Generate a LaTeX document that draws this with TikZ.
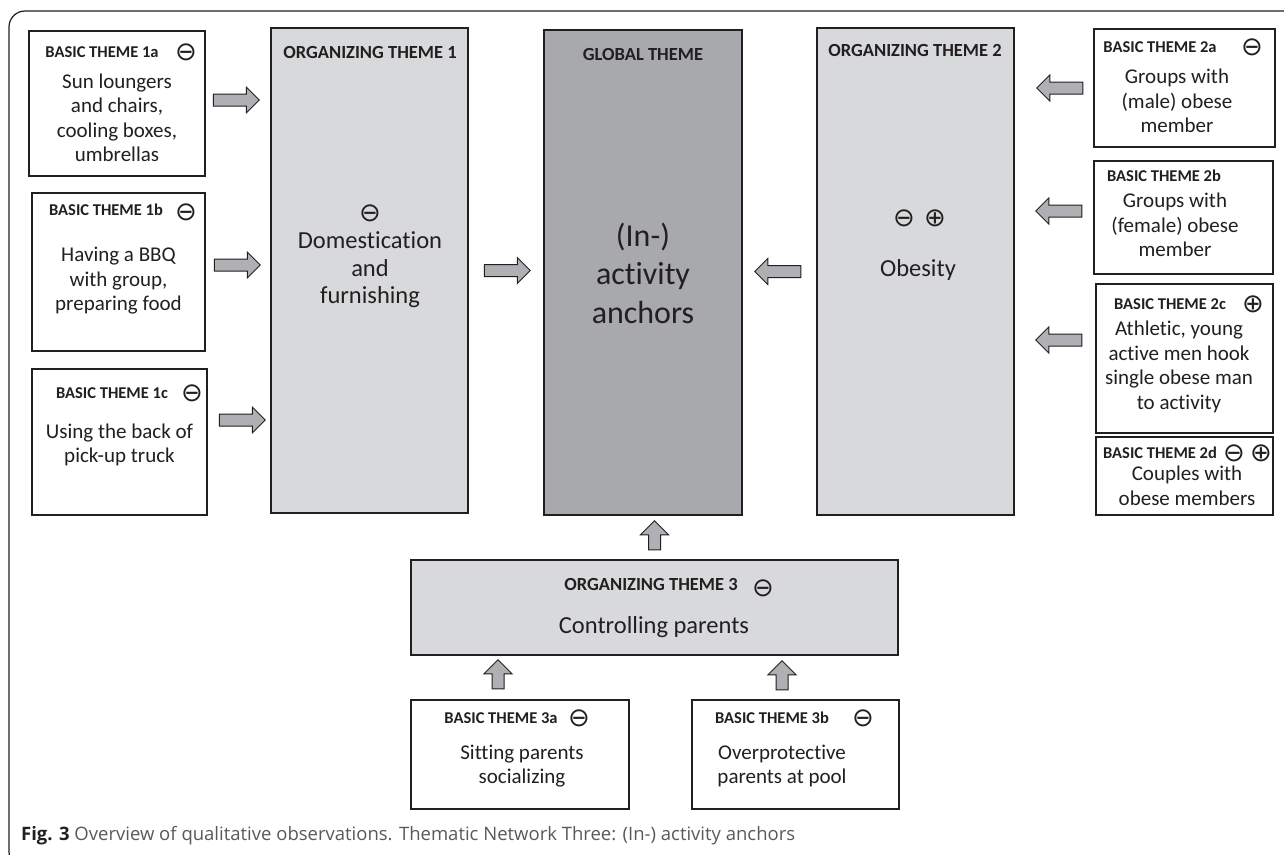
\documentclass[tikz,border=0pt]{standalone}
\usepackage{fontspec}
\setmainfont{Carlito}[Ligatures=NoCommon]
\newfontfamily\symfont{DejaVu Sans}
\newfontfamily\capfont{Open Sans}
\usetikzlibrary{positioning, shapes.arrows}

\definecolor{ltgray}{HTML}{D8D9DB}
\definecolor{dkgray}{HTML}{A7A9AC}
\definecolor{arrgray}{HTML}{AEB0B3}
\definecolor{inkcol}{HTML}{231F20}
\definecolor{capgray}{HTML}{58595B}

\newcommand{\mneg}{{\symfont ⊖}}
\newcommand{\mpos}{{\symfont ⊕}}

\begin{document}
\begin{tikzpicture}[
    x=1pt, y=-1pt,
    bbox/.style={draw=inkcol, line width=1.5pt, fill=white, inner sep=0pt},
    obox/.style={bbox, fill=ltgray},
    gbox/.style={bbox, fill=dkgray},
    hdr/.style={font=\fontsize{16.5}{18}\selectfont\bfseries, text=inkcol, inner sep=0pt},
    ohdr/.style={font=\fontsize{18.5}{20}\selectfont\bfseries, text=inkcol, inner sep=0pt},
    body/.style={font=\fontsize{21}{24.5}\selectfont, text=inkcol, align=center, inner sep=0pt},
    obody/.style={font=\fontsize{24.5}{27.5}\selectfont, text=inkcol, align=center, inner sep=0pt},
    gbody/.style={font=\fontsize{32}{38.5}\selectfont, text=inkcol, align=center, inner sep=0pt},
    sym/.style={font=\fontsize{26}{26}\selectfont, text=inkcol, inner sep=0pt},
    blk/.style={single arrow, draw=inkcol, fill=arrgray, line width=1pt, inner sep=5.5pt,
        single arrow head extend=7pt, minimum width=25pt, minimum height=46pt},
    rarr/.style={blk},
    larr/.style={blk, shape border rotate=180},
    uarr/.style={blk, shape border rotate=90, minimum height=29pt, minimum width=27pt, single arrow head extend=8pt},
    caption/.style={font=\fontsize{18.5}{20}\capfont, text=capgray, inner sep=0pt}
]
\useasboundingbox (0,0) rectangle (1284,854);

% outer frame
\draw[inkcol, line width=1.2pt, rounded corners=16pt] (1300,11) -- (9,11) -- (9,868) -- (40,868);

% basic themes 1
\node[bbox, minimum width=176pt, minimum height=145pt] (b1a) at (117,103.5) {};
\node[hdr] (h1a) at (102,52) {BASIC THEME 1a};
\node[sym] (s1a) at (186,52) {\mneg};
\node[body] (t1a) at (117,118) {Sun loungers\\and chairs,\\cooling boxes,\\umbrellas};

\node[bbox, minimum width=173pt, minimum height=158pt] (b1b) at (118.5,272) {};
\node[hdr] (h1b) at (106,210) {BASIC THEME 1b};
\node[sym] (s1b) at (186,212) {\mneg};
\node[body] (t1b) at (118.5,281) {Having a BBQ\\with group,\\preparing food};

\node[bbox, minimum width=175pt, minimum height=146pt] (b1c) at (119.5,442) {};
\node[hdr] (h1c) at (112,393) {BASIC THEME 1c};
\node[sym] (s1c) at (192,393) {\mneg};
\node[body] (t1c) at (119.5,445) {Using the back of\\pick-up truck};

% organizing and global themes
\node[obox, minimum width=197pt, minimum height=485pt] (ot1) at (369.5,270.5) {};
\node[ohdr] (h1) at (370,52) {ORGANIZING THEME 1};
\node[sym] (s1) at (370,213) {\mneg};
\node[obody] (d1) at (370,270) {Domestication\\and\\furnishing};

\node[gbox, minimum width=198pt, minimum height=485pt] (gt) at (643,272.5) {};
\node[ohdr] (hg) at (643,54) {GLOBAL THEME};
\node[gbody] (dg) at (643,273) {(In-)\\activity\\anchors};

\node[obox, minimum width=197pt, minimum height=487pt] (ot2) at (915.5,271.5) {};
\node[ohdr] (h2) at (915,50) {ORGANIZING THEME 2};
\node[sym] (s2m) at (904,218) {\mneg};
\node[sym] (s2p) at (935,218) {\mpos};
\node[obody] (d2) at (918,270) {Obesity};

% basic themes 2
\node[bbox, minimum width=181pt, minimum height=118pt] (b2a) at (1184.5,88) {};
\node[hdr] (h2a) at (1160,47) {BASIC THEME 2a};
\node[sym] (s2a) at (1252,47) {\mneg};
\node[body] (t2a) at (1177,101) {Groups with\\(male) obese\\member};

\node[bbox, minimum width=179pt, minimum height=113pt] (b2b) at (1183.5,217.5) {};
\node[hdr] (h2b) at (1164,176) {BASIC THEME 2b};
\node[body] (t2b) at (1175,225) {Groups with\\(female) obese\\member};

\node[bbox, minimum width=177pt, minimum height=149pt] (b2c) at (1184.5,358.5) {};
\node[hdr] (h2c) at (1170,304) {BASIC THEME 2c};
\node[sym] (s2c) at (1253,304) {\mpos};
\node[body] (t2c) at (1179,367) {Athletic, young\\active men hook\\single obese man\\to activity};

\node[bbox, minimum width=177pt, minimum height=78pt] (b2d) at (1184.5,476) {};
\node[hdr] (h2d) at (1160,453) {BASIC THEME 2d};
\node[sym] (s2dm) at (1234,453) {\mneg};
\node[sym] (s2dp) at (1261,453) {\mpos};
\node[body] (t2d) at (1187,486) {Couples with\\obese members};

% organizing theme 3 and its basic themes
\node[obox, minimum width=487pt, minimum height=95pt] (ot3) at (654.5,607.5) {};
\node[ohdr] (h3) at (651,584) {ORGANIZING THEME 3};
\node[sym] (s3) at (763,588) {\mneg};
\node[obody] (d3) at (654,627) {Controlling parents};

\node[bbox, minimum width=218pt, minimum height=109pt] (b3a) at (520,754.5) {};
\node[hdr] (h3a) at (501,718) {BASIC THEME 3a};
\node[sym] (s3a) at (579,718) {\mneg};
\node[body] (t3a) at (522,766) {Sitting parents\\socializing};

\node[bbox, minimum width=207pt, minimum height=109pt] (b3b) at (795.5,754.5) {};
\node[hdr] (h3b) at (772,718) {BASIC THEME 3b};
\node[sym] (s3b) at (863,718) {\mneg};
\node[body] (t3b) at (782,766) {Overprotective\\parents at pool};

% block arrows
\node[rarr, right=7pt of b1a, yshift=3.5pt] (a1a) {};
\node[rarr, right=8pt of b1b, yshift=7pt] (a1b) {};
\node[rarr, right=11pt of b1c, yshift=22pt] (a1c) {};
\node[rarr, right=15pt of ot1] (a1g) {};
\node[larr, left=15pt of ot2] (a2g) {};
\node[larr, left=10pt of b2a] (a2a) {};
\node[larr, left=11pt of b2b, yshift=6.5pt] (a2b) {};
\node[larr, left=13pt of b2c, yshift=18.5pt] (a2c) {};
\node[uarr, above=9pt of ot3] (a3g) {};
\node[uarr, above=10pt of b3a, xshift=-22pt] (a3a) {};
\node[uarr, above=9pt of b3b, xshift=-13.5pt] (a3b) {};

% caption
\node[caption, anchor=base west] (cap) at (21,840) {{\bfseries\color{inkcol}Fig. 3} Overview of qualitative observations. Thematic Network Three: (In-) activity anchors};

\end{tikzpicture}
\end{document}
